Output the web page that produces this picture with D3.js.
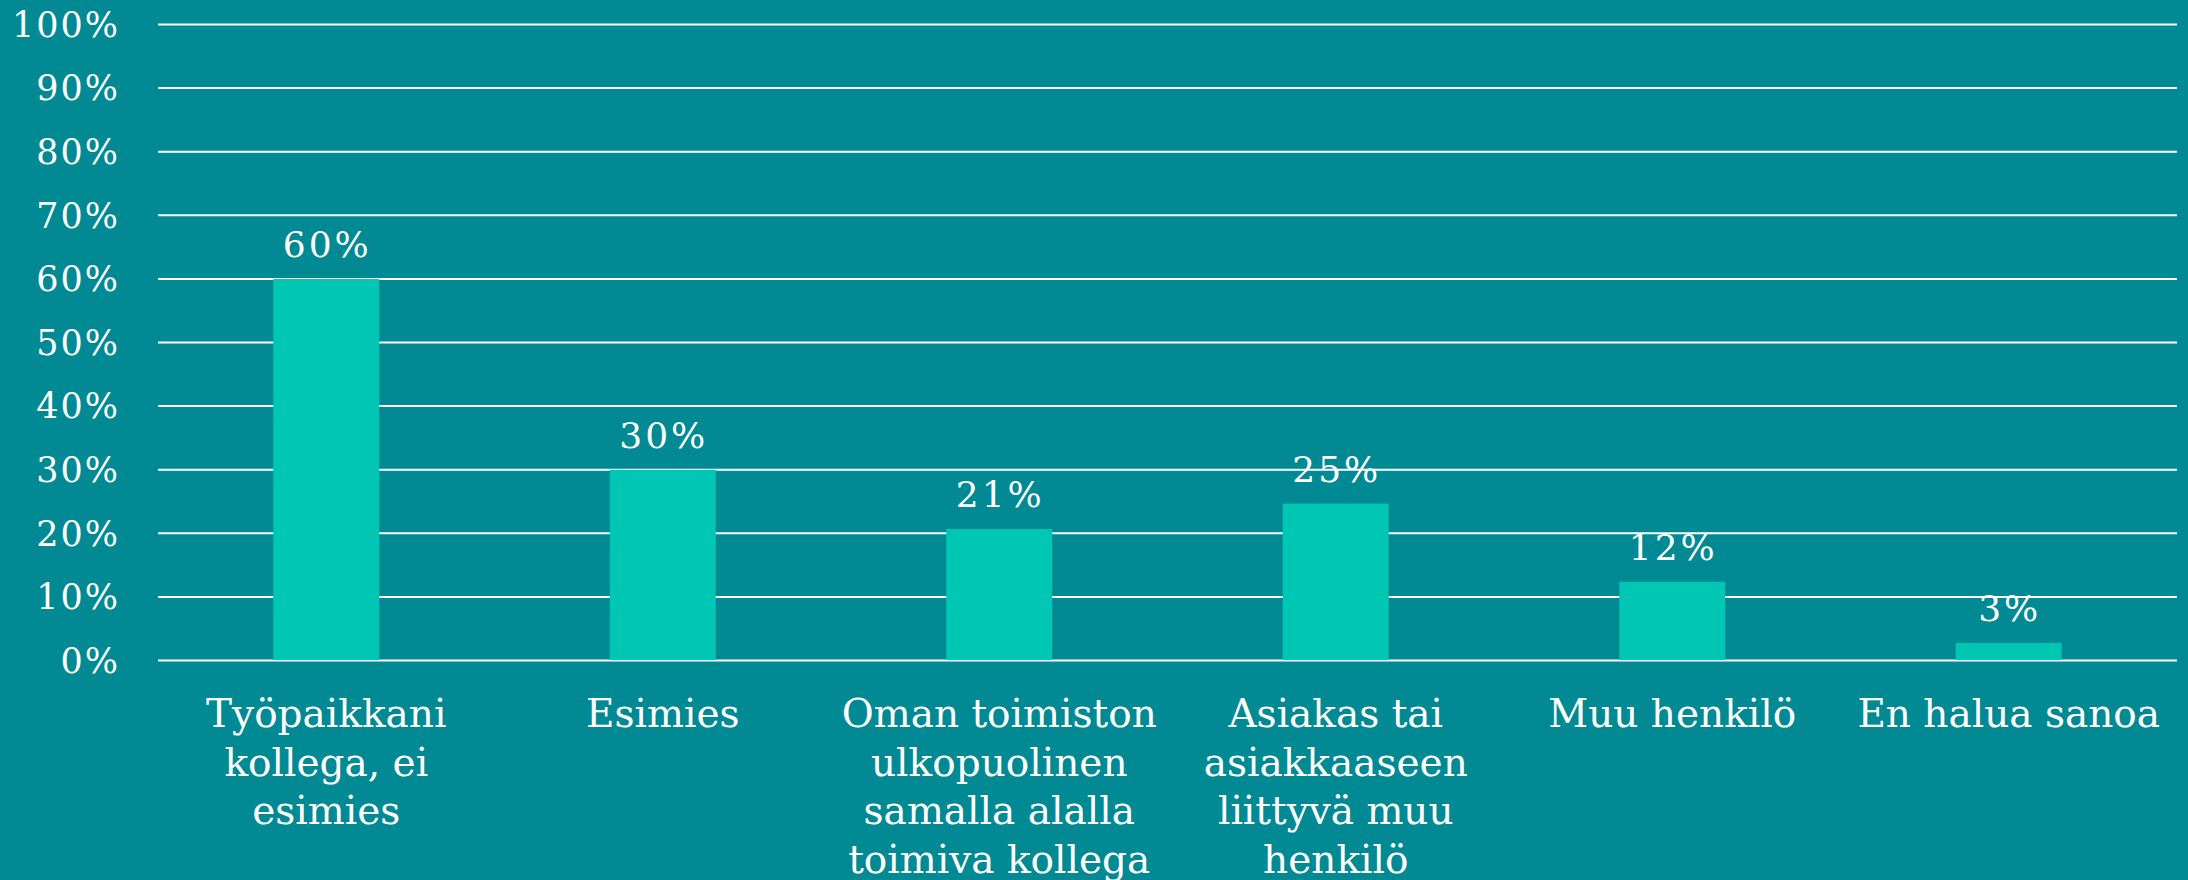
<!DOCTYPE html>
<html>
<head>
<meta charset="utf-8">
<script src="https://cdn.jsdelivr.net/npm/d3@7"></script>
<style>
  html, body { margin: 0; padding: 0; background: #018a93; overflow: hidden; }
  svg { display: block; }
  .grid line { stroke: #ffffff; stroke-width: 2; }
  .grid text { fill: #ffffff; font-family: "DejaVu Serif", serif; font-size: 35px; letter-spacing: 2px; }
  .value { fill: #ffffff; font-family: "DejaVu Serif", serif; font-size: 36px; letter-spacing: 3px; }
  .cat { fill: #ffffff; font-family: "DejaVu Serif", serif; font-size: 39px; }
</style>
</head>
<body>
<svg id="chart"></svg>
<script>
// data
var categories = [
    "Työpaikkani\nkollega, ei\nesimies",
    "Esimies",
    "Oman toimiston\nulkopuolinen\nsamalla alalla\ntoimiva kollega",
    "Asiakas tai\nasiakkaaseen\nliittyvä muu\nhenkilö",
    "Muu henkilö",
    "En halua sanoa"
];
var values = [59.9, 29.9, 20.6, 24.6, 12.3, 2.7];
var valueLabels = ["60%", "30%", "21%", "25%", "12%", "3%"];
var yTicks = [0, 10, 20, 30, 40, 50, 60, 70, 80, 90, 100];

const W = 2188, H = 880;
const margin = { top: 24, right: 11, bottom: 220, left: 158 };
const width = W - margin.left - margin.right;
const height = H - margin.top - margin.bottom;

const svg = d3.select('#chart').attr('width', W).attr('height', H);

svg.append('rect')
    .attr('width', W)
    .attr('height', H)
    .attr('fill', '#018a93');

const chart = svg.append('g')
    .attr('transform', `translate(${margin.left}, ${margin.top})`);

const barPad = 0.685;
const xScale = d3.scaleBand()
    .range([0, width])
    .domain(categories)
    .paddingInner(barPad)
    .paddingOuter(barPad / 2);

const yScale = d3.scaleLinear()
    .range([height, 0])
    .domain([0, 100]);

// horizontal grid lines + tick labels
const grid = chart.append('g')
    .attr('class', 'grid')
    .call(d3.axisLeft(yScale)
        .tickValues(yTicks)
        .tickSize(-width)
        .tickPadding(38)
        .tickFormat((d) => d + '%'));
grid.select('.domain').remove();
grid.selectAll('line').attr('stroke', '#ffffff');
grid.selectAll('text').attr('fill', '#ffffff').attr('dy', '0.35em');

// bars
const barGroups = chart.selectAll('.barGroup')
    .data(values)
    .enter()
    .append('g')
    .attr('class', 'barGroup');

barGroups.append('rect')
    .attr('class', 'bar')
    .attr('x', (d, i) => xScale(categories[i]))
    .attr('y', (d) => yScale(d))
    .attr('width', xScale.bandwidth())
    .attr('height', (d) => height - yScale(d))
    .attr('fill', '#00c6b4');

barGroups.append('text')
    .attr('class', 'value')
    .attr('x', (d, i) => xScale(categories[i]) + xScale.bandwidth() / 2 + 1)
    .attr('y', (d) => yScale(d) - 22)
    .attr('text-anchor', 'middle')
    .text((d, i) => valueLabels[i]);

// category labels, several lines each
const catLabels = chart.selectAll('.cat')
    .data(categories)
    .enter()
    .append('text')
    .attr('class', 'cat')
    .attr('text-anchor', 'middle')
    .attr('transform', (d) => `translate(${xScale(d) + xScale.bandwidth() / 2}, ${height + 67})`);

catLabels.selectAll('tspan')
    .data((d) => d.split('\n'))
    .enter()
    .append('tspan')
    .attr('x', 0)
    .attr('y', (d, i) => i * 48.5)
    .text((d) => d);
</script>
</body>
</html>
